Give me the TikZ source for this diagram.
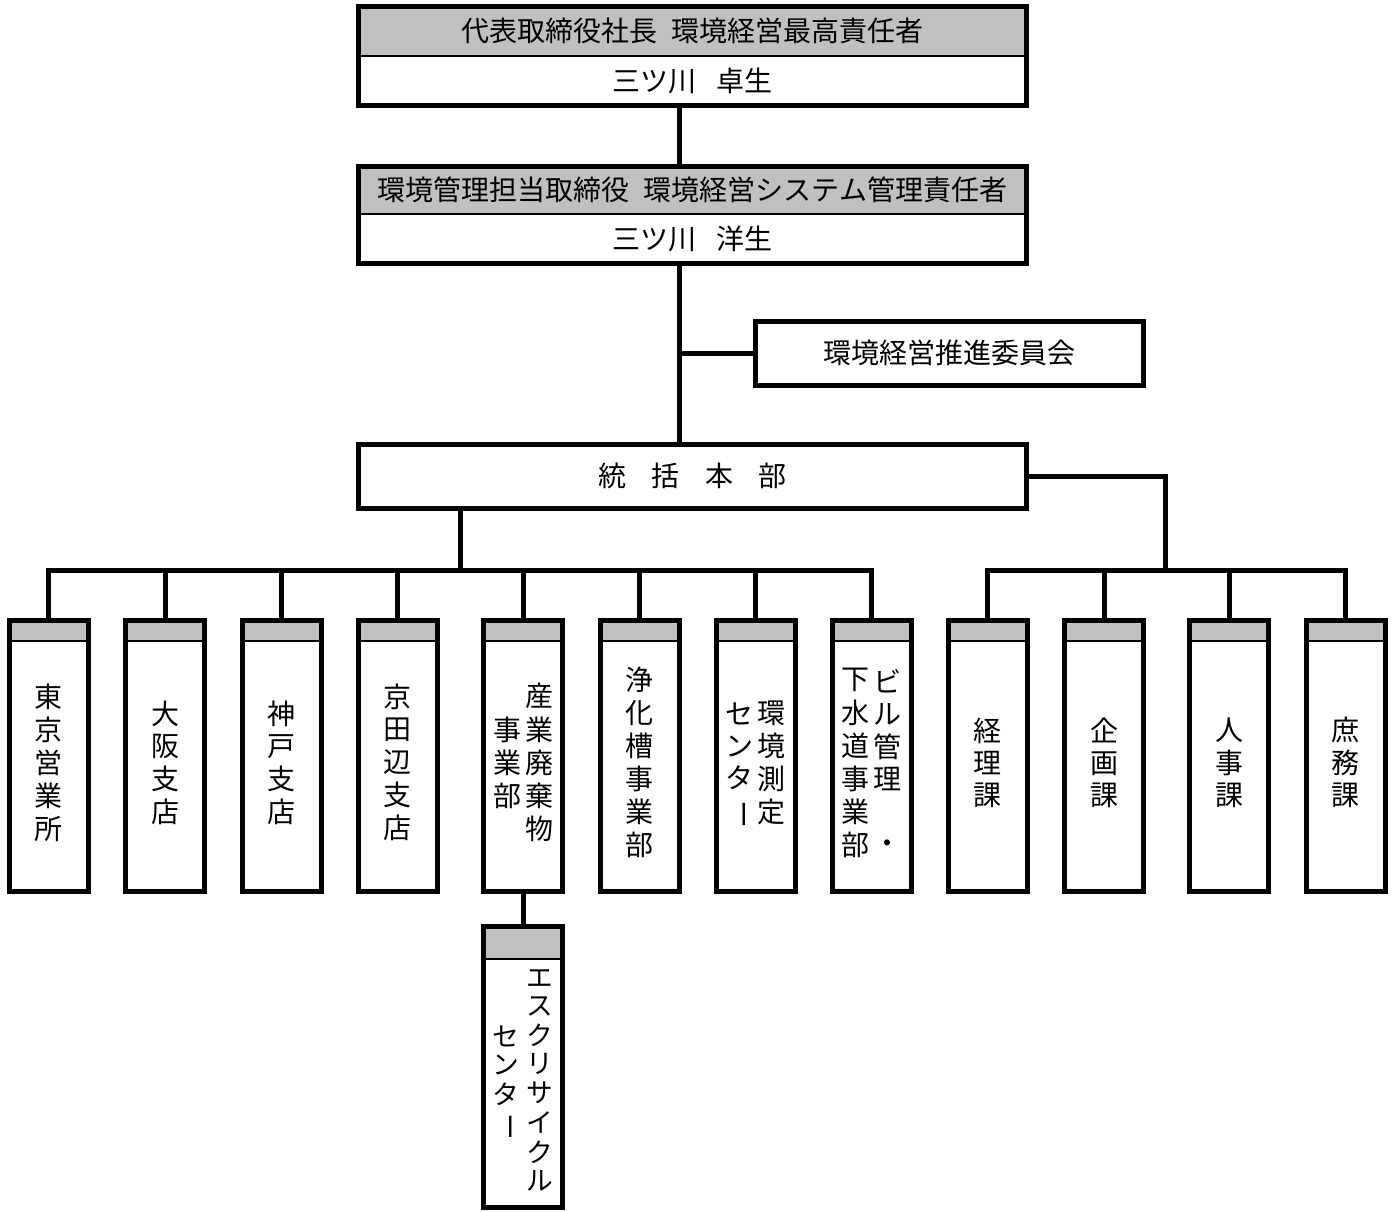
\documentclass[tikz,border=0pt]{standalone}
\usepackage{fontspec}
\setmainfont{Noto Sans CJK JP}
\usepackage{graphicx}
\definecolor{hdrgray}{HTML}{C0C0C0}
\newcommand\vstack[1]{\begin{tabular}[c]{@{}c@{}}#1\end{tabular}}
\newcommand\vbar{\smash{\rotatebox[origin=c]{-90}{ー}}}
\newcommand\orgunit[3]{%
  \node[hdr, wd=79, ht=20.5, anchor=north] (#1h) at (#2,620.5) {};
  \node[namebox, wd=79, ht=250.5, anchor=north] (#1) at (#1h.south) {#3};
  \draw[frame] (#1h.north west) rectangle (#1.south east);}
\begin{document}
\begin{tikzpicture}[x=0.75pt,y=-0.75pt,
  wd/.style={minimum width={#1*0.75pt}},
  ht/.style={minimum height={#1*0.75pt}},
  base/.style={inner sep=0pt, outer sep=0pt, font=\fontsize{21}{24}\selectfont},
  hdr/.style={base, fill=hdrgray, draw, line width=1.9pt},
  namebox/.style={base, fill=white, draw, line width=1.9pt},
  frame/.style={draw, line width=3.75pt},
  plainbox/.style={base, draw, line width=3.75pt, fill=white},
  link/.style={draw, line width=3.75pt}]
\useasboundingbox[fill=white] (0,0) rectangle (1394,1211);

% top executive
\node[hdr, wd=668, ht=50, anchor=north] (ceoh) at (692.5,6) {代表取締役社長\hspace{0.5em}環境経営最高責任者};
\node[namebox, wd=668, ht=49, anchor=north] (ceob) at (ceoh.south) {三ツ川\hspace{0.7em}卓生};
\draw[frame] (ceoh.north west) rectangle (ceob.south east);

% manager
\node[hdr, wd=668, ht=48, anchor=north] (mgrh) at (692.5,166) {環境管理担当取締役\hspace{0.5em}環境経営システム管理責任者};
\node[namebox, wd=668, ht=49, anchor=north] (mgrb) at (mgrh.south) {三ツ川\hspace{0.7em}洋生};
\draw[frame] (mgrh.north west) rectangle (mgrb.south east);

% committee and HQ
\node[plainbox, wd=388, ht=64] (cmt) at (949,353) {環境経営推進委員会};
\node[plainbox, wd=668, ht=64] (hq) at (692.5,476) {統\hspace{0.9em}括\hspace{0.9em}本\hspace{0.9em}部};

\coordinate (spine) at (679,0);
\coordinate (lbus) at (460,570);
\coordinate (rbus) at (1165,570);

% units
\orgunit{b1}{48.5}{\vstack{東\\京\\営\\業\\所}}
\orgunit{b2}{165}{\vstack{大\\阪\\支\\店}}
\orgunit{b3}{281.5}{\vstack{神\\戸\\支\\店}}
\orgunit{b4}{397.5}{\vstack{京\\田\\辺\\支\\店}}
\orgunit{b5}{523}{\vstack{事\\業\\部}\hspace{3pt}\vstack{産\\業\\廃\\棄\\物}}
\orgunit{b6}{639.5}{\vstack{浄\\化\\槽\\事\\業\\部}}
\orgunit{b7}{755.5}{\vstack{セ\\ン\\タ\\\vbar}\hspace{3pt}\vstack{環\\境\\測\\定}}
\orgunit{b8}{871.5}{\vstack{下\\水\\道\\事\\業\\部}\hspace{3pt}\vstack{ビ\\ル\\管\\理\\{}\\・}}
\orgunit{b9}{987.5}{\vstack{経\\理\\課}}
\orgunit{b10}{1104}{\vstack{企\\画\\課}}
\orgunit{b11}{1229}{\vstack{人\\事\\課}}
\orgunit{b12}{1345.5}{\vstack{庶\\務\\課}}

% sub unit
\node[hdr, wd=79, ht=32.5, anchor=north] (subh) at (523,926.5) {};
\node[namebox, wd=79, ht=248.5, anchor=north, font=\fontsize{20}{21}\selectfont] (sub) at (subh.south)
  {\vstack{セ\\ン\\タ\\\vbar}\hspace{5.5pt}\vstack{エ\\ス\\ク\\リ\\サ\\イ\\ク\\ル}};
\draw[frame] (subh.north west) rectangle (sub.south east);

% connectors
\draw[link] (ceob.south -| spine) -- (mgrh.north -| spine);
\draw[link] (mgrb.south -| spine) -- (hq.north -| spine);
\draw[link] (cmt.west) -- (cmt.west -| spine);
\draw[link] (hq.south -| lbus) -- (lbus);
\draw[link] (hq.east) -| (rbus);
\draw[link] (b1h.north) |- (b8h.north |- lbus) -- (b8h.north);
\foreach \n in {b2h,b3h,b4h,b5h,b6h,b7h}
  \draw[link] (\n.north) -- (\n.north |- lbus);
\draw[link] (b9h.north) |- (b12h.north |- rbus) -- (b12h.north);
\foreach \n in {b10h,b11h}
  \draw[link] (\n.north) -- (\n.north |- rbus);
\draw[link] (b5.south) -- (subh.north);
\end{tikzpicture}
\end{document}
